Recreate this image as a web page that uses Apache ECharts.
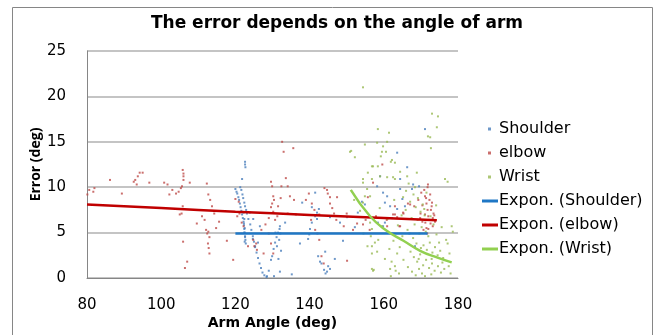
<!DOCTYPE html>
<html>
<head>
<meta charset="utf-8">
<script src="https://cdn.jsdelivr.net/npm/echarts@6/dist/echarts.min.js"></script>
<style>
  html, body { margin: 0; padding: 0; background: #fff; }
  #chart { width: 655px; height: 335px; }
</style>
</head>
<body>
<div id="chart"></div>
<script>
// points: [arm angle, error]
const shoulderPts = [
  [120.0, 9.8], [120.3, 9.5], [120.5, 9.3], [120.8, 8.9], [121.0, 8.6], [121.2, 8.2], [121.4, 7.8], [121.6, 7.4],
  [121.8, 7.0], [122.0, 6.6], [122.2, 6.2], [122.3, 5.8], [122.4, 5.4], [122.5, 5.0], [122.6, 4.6], [122.7, 4.2],
  [122.8, 3.8], [121.3, 10.0], [121.6, 9.7], [121.9, 9.2], [122.1, 8.8], [122.4, 8.3], [122.6, 7.9], [122.9, 7.5],
  [123.1, 7.1], [122.2, 7.2], [122.4, 6.5], [122.3, 6.0], [122.5, 5.5], [122.4, 5.0], [122.6, 4.5], [122.5, 4.0],
  [122.6, 12.8], [122.6, 12.5], [122.7, 12.2], [121.8, 10.9], [123.5, 6.5], [124.0, 5.9], [124.3, 5.3], [124.7, 4.6],
  [125.0, 4.0], [125.3, 3.4], [125.7, 2.8], [126.1, 2.2], [126.5, 1.6], [126.9, 1.1], [127.3, 0.6], [127.8, 0.3],
  [128.4, 0.1], [128.5, 0.2], [130.4, 0.2], [123.9, 7.2], [124.8, 6.5], [126.6, 5.7], [124.7, 4.3], [125.3, 3.5],
  [126.1, 3.9], [129.0, 0.8], [129.6, 2.0], [129.9, 2.4], [130.3, 3.2], [130.7, 3.9], [131.1, 4.5], [131.5, 5.0],
  [132.0, 5.7], [133.4, 6.1], [130.8, 5.0], [131.2, 3.5], [131.6, 2.1], [132.0, 0.7], [131.8, 4.2], [132.1, 4.9],
  [131.9, 5.4], [132.3, 3.0], [135.2, 0.4], [139.6, 4.3], [139.9, 4.8], [140.1, 5.4], [140.6, 6.1], [141.5, 6.8],
  [142.0, 7.2], [142.5, 7.6], [142.3, 2.4], [143.2, 1.6], [143.9, 0.9], [144.3, 0.5], [138.0, 8.3], [137.4, 3.8],
  [141.5, 9.4], [140.6, 7.8], [142.0, 6.5], [145.5, 6.7], [148.2, 6.1], [150.1, 6.7], [152.2, 5.6], [153.0, 7.2],
  [154.1, 8.4], [154.9, 8.1], [149.0, 4.1], [144.2, 2.9], [142.8, 1.8], [145.0, 1.3], [145.5, 1.0], [144.7, 0.7],
  [146.8, 2.1], [163.6, 13.8], [171.1, 16.4], [166.3, 12.2], [158.2, 10.1], [159.0, 11.2], [159.8, 9.4], [160.9, 9.0],
  [160.3, 8.3], [161.7, 7.9], [163.6, 7.6], [164.4, 9.8], [165.0, 8.7], [165.7, 7.9], [167.9, 10.3], [167.6, 9.8],
  [164.4, 10.9], [158.4, 6.1], [159.8, 5.7], [160.3, 6.1], [168.4, 3.5], [162.2, 6.6], [166.9, 4.9], [169.5, 10.1]
];

const elbowPts = [
  [80.1, 9.2], [80.6, 9.7], [81.7, 9.5], [82.0, 9.9], [86.2, 10.8], [89.4, 9.3], [92.6, 10.6], [93.0, 10.8],
  [93.4, 10.3], [93.7, 11.2], [94.2, 11.6], [95.0, 11.6], [96.8, 10.5], [100.8, 10.5], [101.7, 10.3], [102.2, 9.2],
  [103.0, 9.7], [104.0, 9.3], [104.7, 9.5], [105.3, 9.9], [105.8, 11.9], [106.0, 11.5], [106.0, 11.2], [106.0, 10.8],
  [105.8, 7.9], [105.5, 7.1], [105.0, 7.0], [105.9, 4.0], [106.4, 1.1], [107.0, 1.8], [107.7, 10.5], [105.6, 10.1],
  [109.6, 6.0], [111.0, 6.8], [111.7, 6.4], [112.1, 5.3], [112.4, 4.9], [112.6, 3.8], [112.8, 3.3], [113.0, 2.7],
  [112.3, 10.4], [112.7, 9.2], [113.2, 8.6], [113.7, 7.9], [114.3, 7.1], [114.8, 5.5], [115.6, 6.2], [117.7, 4.1],
  [112.7, 5.1], [113.0, 4.5], [119.4, 2.0], [120.0, 8.7], [120.9, 8.4], [121.1, 7.1], [120.5, 6.8], [121.7, 6.1],
  [122.2, 5.7], [124.8, 4.2], [125.1, 3.5], [125.6, 3.8], [125.8, 3.1], [123.4, 3.5], [129.6, 10.6], [129.9, 10.1],
  [130.2, 9.0], [130.4, 8.6], [129.9, 8.2], [129.6, 7.8], [130.2, 7.3], [129.0, 6.6], [130.7, 6.4], [131.3, 6.8],
  [131.5, 7.9], [132.2, 8.8], [132.4, 10.1], [132.6, 15.0], [133.0, 13.9], [133.6, 11.0], [134.1, 10.1], [134.7, 9.0],
  [135.6, 14.3], [135.8, 8.6], [136.3, 7.0], [129.0, 4.9], [129.6, 3.8], [130.2, 2.7], [127.0, 5.3], [128.1, 5.9],
  [127.6, 2.7], [134.1, 7.1], [139.0, 8.6], [139.8, 9.3], [140.6, 8.2], [141.3, 7.5], [140.4, 6.4], [141.5, 5.3],
  [142.1, 4.9], [142.6, 4.2], [143.2, 2.4], [143.8, 1.6], [144.0, 9.9], [144.7, 9.7], [144.9, 9.3], [145.5, 8.2],
  [146.1, 7.7], [146.6, 7.1], [147.2, 6.4], [142.6, 7.0], [149.2, 5.7], [150.0, 7.1], [151.7, 5.3], [152.8, 6.0],
  [155.1, 6.4], [156.2, 5.3], [157.9, 6.8], [159.6, 12.5], [160.8, 6.4], [162.5, 7.0], [164.2, 5.7], [165.3, 7.1],
  [166.5, 8.2], [168.2, 7.9], [169.3, 8.6], [169.9, 7.1], [170.9, 9.7], [171.1, 9.0], [171.5, 8.2], [171.8, 7.5],
  [172.0, 6.8], [172.3, 6.4], [172.6, 6.0], [173.2, 6.6], [173.4, 7.1], [172.9, 7.9], [173.8, 6.2], [171.5, 5.5],
  [170.7, 5.3], [170.4, 6.2], [169.8, 6.6], [171.8, 10.0], [172.3, 8.6], [172.7, 7.5], [171.1, 7.0], [172.0, 5.4],
  [173.2, 5.7], [171.7, 4.9], [170.4, 8.0], [157.1, 10.5], [163.0, 7.0], [163.6, 6.7], [165.2, 7.2], [167.1, 8.1],
  [167.6, 6.5], [171.9, 10.3], [160.9, 5.7], [164.4, 5.7], [163.0, 7.9], [155.7, 8.9], [154.4, 5.9], [150.1, 1.9],
  [145.5, 8.9], [147.4, 8.9], [173.6, 6.9], [172.5, 9.2], [171.2, 6.1], [170.1, 9.4], [173.0, 8.3], [171.4, 8.8]
];

const wristPts = [
  [154.4, 21.0], [173.0, 18.1], [174.6, 17.8], [174.3, 16.6], [158.4, 16.4], [161.4, 16.0], [171.9, 15.6], [172.5, 15.5],
  [160.9, 15.0], [158.2, 14.9], [159.8, 14.5], [159.5, 13.9], [154.9, 14.7], [151.2, 14.0], [152.2, 13.3], [160.6, 13.9],
  [161.9, 12.8], [163.0, 12.7], [159.2, 13.4], [158.4, 12.3], [172.7, 14.3], [157.1, 12.3], [155.7, 11.6], [154.4, 10.9],
  [154.4, 10.5], [159.0, 11.2], [156.8, 10.9], [160.9, 11.1], [163.0, 10.9], [164.4, 11.7], [166.3, 11.2], [168.9, 11.6],
  [176.5, 10.9], [162.2, 13.0], [162.5, 11.1], [155.5, 9.8], [156.3, 9.0], [156.3, 6.1], [156.8, 5.4], [156.5, 4.6],
  [156.8, 3.5], [156.8, 1.0], [154.9, 9.0], [154.4, 8.3], [159.5, 5.7], [157.6, 3.9], [160.3, 2.1], [161.7, 1.0],
  [158.2, 2.9], [157.1, 0.8], [157.3, 0.9], [156.8, 2.7], [158.5, 4.2], [154.5, 4.9], [155.6, 3.5], [161.9, 0.2],
  [163.0, 1.3], [164.1, 0.5], [163.6, 2.7], [165.3, 2.0], [177.2, 10.6], [178.3, 5.7], [178.6, 5.1], [177.2, 3.8],
  [177.7, 2.7], [177.5, 1.3], [178.0, 0.5], [165.2, 8.9], [166.0, 9.6], [167.1, 8.4], [168.0, 9.2], [168.6, 7.8],
  [169.2, 8.8], [169.9, 7.3], [170.5, 8.1], [171.0, 6.9], [167.5, 6.6], [168.3, 5.9], [169.1, 6.4], [170.2, 5.6],
  [171.3, 5.1], [172.0, 4.6], [166.4, 5.3], [167.9, 4.4], [168.8, 3.8], [169.6, 4.9], [170.7, 3.6], [171.6, 3.1],
  [172.4, 3.9], [173.1, 2.8], [173.8, 3.4], [174.5, 2.5], [175.2, 3.0], [176.0, 2.2], [167.2, 2.9], [168.1, 2.3],
  [169.0, 1.8], [169.8, 2.6], [170.6, 1.4], [171.4, 2.0], [172.2, 1.1], [173.0, 1.6], [173.7, 0.8], [174.6, 1.3],
  [175.4, 0.6], [176.3, 1.0], [166.5, 1.2], [167.6, 0.7], [168.6, 0.3], [169.5, 1.0], [170.3, 0.5], [171.1, 0.2],
  [172.8, 0.4], [164.3, 3.4], [165.0, 4.6], [163.8, 5.8], [164.8, 6.9], [165.9, 7.5], [162.6, 4.1], [161.5, 3.2],
  [162.1, 1.8], [163.2, 0.8], [176.8, 4.2], [175.6, 5.6], [174.2, 4.8], [173.4, 5.9], [172.6, 6.8], [170.9, 7.6],
  [168.4, 10.0], [166.7, 10.4], [171.5, 9.4], [174.1, 8.0], [150.9, 13.9], [156.8, 12.3], [152.0, 8.6], [153.6, 7.4],
  [158.9, 7.7], [161.0, 6.5], [162.8, 8.6], [169.4, 2.1], [170.0, 3.3], [172.9, 2.1], [174.9, 3.9], [175.8, 1.7]
];

// exponential trend lines
const shoulderTrend = [[120.0, 4.9], [140.0, 4.9], [160.0, 4.9], [171.8, 4.9]];
const elbowTrend = [[80.0, 8.1], [100.0, 7.7], [120.0, 7.3], [140.0, 6.95], [160.0, 6.6], [174.3, 6.35]];
const wristTrend = [[151.1, 9.7], [156.3, 6.8], [160.8, 5.2], [165.3, 4.1], [169.8, 3.0], [174.3, 2.27], [178.3, 1.72]];

const scatterNames = ["Shoulder", "elbow", "Wrist"];
const trendNames = ["Expon. (Shoulder)", "Expon. (elbow)", "Expon. (Wrist)"];

// horizontal text in the original is wide, DejaVu comes closest
const FONT = "DejaVu Sans";
const axisGray = "#868686";

const chart = echarts.init(document.getElementById("chart"), null, { renderer: "canvas" });

const scatterSeries = (name, data, color) => ({
  name,
  type: "scatter",
  data,
  symbol: "rect",
  symbolSize: 2,
  itemStyle: { color },
  silent: true,
  z: 3,
});

const trendSeries = (name, data, color) => ({
  name,
  type: "line",
  data,
  smooth: true,
  showSymbol: false,
  lineStyle: { color, width: 2.5 },
  itemStyle: { color },
  silent: true,
  z: 4,
});

const legendText = { fontFamily: FONT, fontSize: 16, lineHeight: 16, color: "#000" };

chart.setOption({
  animation: false,
  textStyle: { fontFamily: FONT },
  title: {
    text: "The error depends on the angle of arm",
    left: 332,
    top: 10,
    textAlign: "center",
    textStyle: { fontFamily: FONT, fontSize: 17, fontWeight: "bold", color: "#000" },
  },
  graphic: [
    {
      type: "rect",
      shape: { x: 12.5, y: 7.5, width: 640, height: 340 },
      style: { fill: "none", stroke: axisGray, lineWidth: 1 },
      silent: true,
    },
  ],
  grid: { left: 87, right: 197, top: 51, bottom: 56 },
  legend: [
    {
      data: scatterNames,
      orient: "vertical",
      left: 483,
      top: 116,
      itemWidth: 3,
      itemHeight: 3,
      itemGap: 8,
      icon: "rect",
      textStyle: Object.assign({ padding: [0, 0, 0, 3] }, legendText),
    },
    {
      data: trendNames,
      orient: "vertical",
      left: 477,
      top: 188,
      itemWidth: 16,
      itemHeight: 3,
      itemGap: 8,
      icon: "rect",
      textStyle: Object.assign({ padding: [0, 0, 0, -4] }, legendText),
    },
  ],
  xAxis: {
    type: "value",
    min: 80,
    max: 180,
    interval: 20,
    name: "Arm Angle (deg)",
    nameLocation: "middle",
    nameGap: 38,
    nameMoveOverlap: false,
    nameTextStyle: { fontFamily: FONT, fontSize: 14, fontWeight: "bold", color: "#000" },
    axisLine: { show: true, lineStyle: { color: axisGray, width: 1 } },
    axisTick: { show: false },
    splitLine: { show: false },
    axisLabel: { fontFamily: FONT, fontSize: 15, color: "#000", margin: 20 },
  },
  yAxis: {
    type: "value",
    min: 0,
    max: 25,
    interval: 5,
    name: "Error (deg)",
    nameLocation: "middle",
    nameGap: 44,
    nameMoveOverlap: false,
    nameTextStyle: { fontFamily: "Open Sans", fontSize: 14, fontWeight: "bold", color: "#000" },
    axisLine: { show: true, lineStyle: { color: axisGray, width: 1 } },
    axisTick: { show: false },
    splitLine: { show: true, lineStyle: { color: "#b0b0b0", width: 1.5 } },
    axisLabel: { fontFamily: FONT, fontSize: 15, color: "#000", margin: 21 },
  },
  series: [
    scatterSeries(scatterNames[0], shoulderPts, "#4a7ebb"),
    scatterSeries(scatterNames[1], elbowPts, "#be4b48"),
    scatterSeries(scatterNames[2], wristPts, "#98b954"),
    trendSeries(trendNames[0], shoulderTrend, "#1f77c5"),
    trendSeries(trendNames[1], elbowTrend, "#c00000"),
    trendSeries(trendNames[2], wristTrend, "#92d050"),
  ],
});
</script>
</body>
</html>
